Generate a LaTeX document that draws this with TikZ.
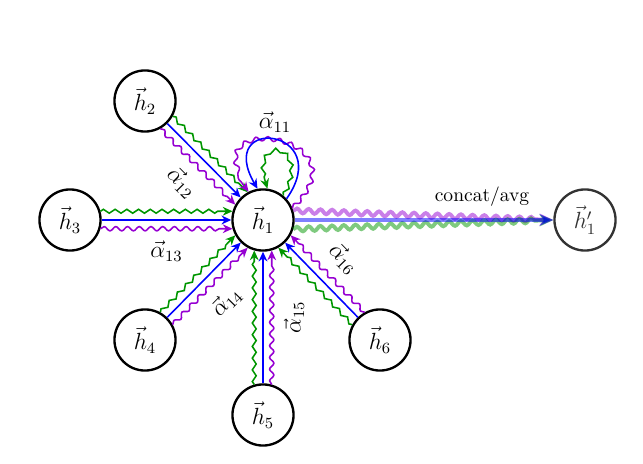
\documentclass[tikz,border=0pt]{standalone}
\usetikzlibrary{positioning,arrows.meta,decorations.pathmorphing,calc}
\definecolor{headBlue}{RGB}{0,0,255}
\definecolor{headGreen}{RGB}{0,150,0}
\definecolor{headPurple}{RGB}{150,0,210}

\begin{document}
\begin{tikzpicture}[x=0.018cm,y=0.018cm,
    vertex/.style={draw,circle,very thick,minimum size=1.1cm,inner sep=0pt,font=\large},
    coef/.style={font=\large},
    headb/.style={draw=headBlue,thick,-{Stealth[length=5pt,width=4.5pt]}},
    headg/.style={draw=headGreen,thick,-{Stealth[length=5pt,width=4.5pt]},decorate,
      decoration={zigzag,amplitude=1pt,segment length=6pt,post length=5pt}},
    headp/.style={draw=headPurple,thick,-{Stealth[length=5pt,width=4.5pt]},decorate,
      decoration={snake,amplitude=1.1pt,segment length=6pt,post length=5pt}},
    merged/.style={line width=2pt,opacity=0.5,-{Stealth[length=7pt,width=6pt]}}]
    \useasboundingbox (0,0) rectangle (643,464);

    % nodes
    \node[vertex] (h1) at (263,244) {$\vec{h}_1$};
    \node[vertex] (h2) at (145,363) {$\vec{h}_2$};
    \node[vertex] (h3) at (70,244) {$\vec{h}_3$};
    \node[vertex] (h4) at (145,124) {$\vec{h}_4$};
    \node[vertex] (h5) at (263,49) {$\vec{h}_5$};
    \node[vertex] (h6) at (380,124) {$\vec{h}_6$};
    \node[vertex,draw=black!80,text=black!80] (h1p) at (585,244) {$\vec{h}'_1$};

    % three heads from every neighbour
    \foreach \k/\ang/\side in {2/-45/below,3/0/below,4/45/below,5/90/below,6/135/above}{
      \pgfmathtruncatemacro\gs{\ang+16}
      \pgfmathtruncatemacro\ge{\ang+164}
      \pgfmathtruncatemacro\ps{\ang-16}
      \pgfmathtruncatemacro\pe{\ang+196}
      \draw[headg] (h\k.\gs) -- (h1.\ge);
      \draw[headp] (h\k.\ps) -- (h1.\pe);
      \draw[headb] (h\k) -- node[coef,sloped,\side=7pt] (a1\k) {$\vec{\alpha}_{1\k}$} (h1);
    }

    % self attention
    \draw[headp] (h1.22) .. controls +(45:1.9cm) and +(130:1.9cm) .. (h1.117);
    \draw[headb] (h1.42) .. controls +(55:1.55cm) and +(120:1.55cm) .. (h1.100);
    \draw[headg] (h1.50) .. controls +(60:1.1cm) and +(110:1.1cm) .. (h1.82);
    \node[coef] (a11) at (275,342) {$\vec{\alpha}_{11}$};

    % aggregation of the heads
    \draw[merged,headPurple,decorate,decoration={snake,amplitude=1.2pt,segment length=6pt,post length=7pt}] (h1.17) -- (h1p.west);
    \draw[merged,headGreen,decorate,decoration={snake,amplitude=1.2pt,segment length=6pt,post length=7pt}] (h1.-17) -- (h1p.west);
    \draw[merged,headBlue] (h1) -- (h1p);
    \node (agg) at (482,267) {concat/avg};
  \end{tikzpicture}
\end{document}
